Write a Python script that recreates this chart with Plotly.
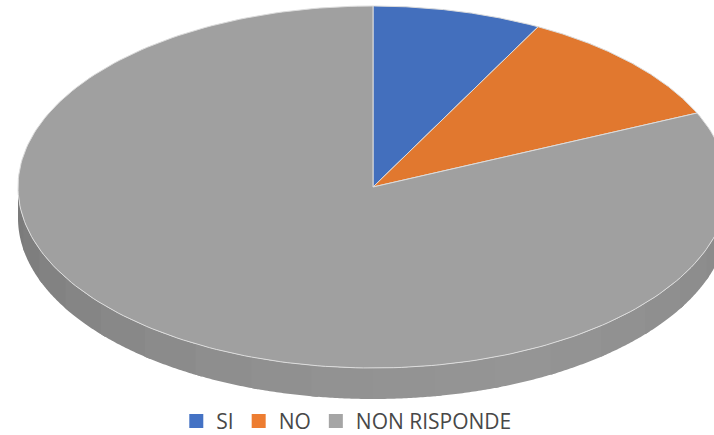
import numpy as np
import plotly.graph_objects as go

categories = ["SI", "NO", "NON RISPONDE"]
values = [7.7, 10.6, 81.7]
slice_colors = ["#436fbd", "#e1782f", "#a0a0a0"]
legend_colors = ["#4472c4", "#ed7d31", "#a5a5a5"]
wall_shades = ["#7b7b7b", "#7e7e7e", "#828282", "#858585", "#888888", "#8b8b8b",
               "#8e8e8e", "#909090", "#929292", "#939393", "#949494", "#959595",
               "#939393", "#919191", "#8f8f8f", "#8d8d8d", "#8b8b8b", "#8a8a8a"]

W, H = 714, 435
CX, CY, RX, RY, DEPTH = 373, 187, 355, 181, 31


def arc(a0, a1, n=240):
    t = np.linspace(a0, a1, n)
    return np.sin(t), np.cos(t)


fig = go.Figure()

# side wall: front half of the ellipse, extruded downward
# bands are painted left to right, each one overlapping the next to hide seams
depth = DEPTH / RY
edges = np.linspace(3 * np.pi / 2, np.pi / 2, len(wall_shades) + 1)
for i, shade in enumerate(wall_shades):
    x, y = arc(edges[i], edges[-1] if i == len(wall_shades) - 1 else edges[i + 1] - 0.02, 30)
    fig.add_trace(go.Scatter(
        x=np.r_[x, x[::-1]], y=np.r_[y, y[::-1] - depth],
        mode="none", fill="toself", fillcolor=shade,
        showlegend=False, hoverinfo="skip"))

# top face: slices computed from the values, clockwise from twelve o'clock
fractions = np.cumsum([0] + values) / sum(values) * 2 * np.pi
for i, name in enumerate(categories):
    x, y = arc(fractions[i], fractions[i + 1])
    fig.add_trace(go.Scatter(
        x=np.r_[0, x, 0], y=np.r_[0, y, 0], mode="lines", fill="toself",
        fillcolor=slice_colors[i], line=dict(color="#dcdcdc", width=1),
        name=name, showlegend=False, hoverinfo="name"))

for name, color in zip(categories, legend_colors):
    fig.add_trace(go.Scatter(
        x=[None], y=[None], mode="markers", name=name,
        marker=dict(symbol="square", size=14, color=color)))

fig.update_layout(
    width=W, height=H, autosize=False,
    margin=dict(l=0, r=0, t=0, b=0, autoexpand=False),
    paper_bgcolor="white", plot_bgcolor="white",
    xaxis=dict(range=[-CX / RX, (W - CX) / RX], visible=False, fixedrange=True),
    yaxis=dict(range=[(CY - H) / RY, CY / RY], visible=False, fixedrange=True),
    font=dict(family="Open Sans", size=21, color="#484848"),
    legend=dict(orientation="h", x=0.485, xanchor="center", y=-0.016, yanchor="bottom",
                bgcolor="rgba(0,0,0,0)", itemwidth=30, tracegroupgap=0),
)

fig.write_html("out.html", config={"displayModeBar": False},
               post_script="document.body.style.margin='0';document.documentElement.style.overflow='hidden';")
